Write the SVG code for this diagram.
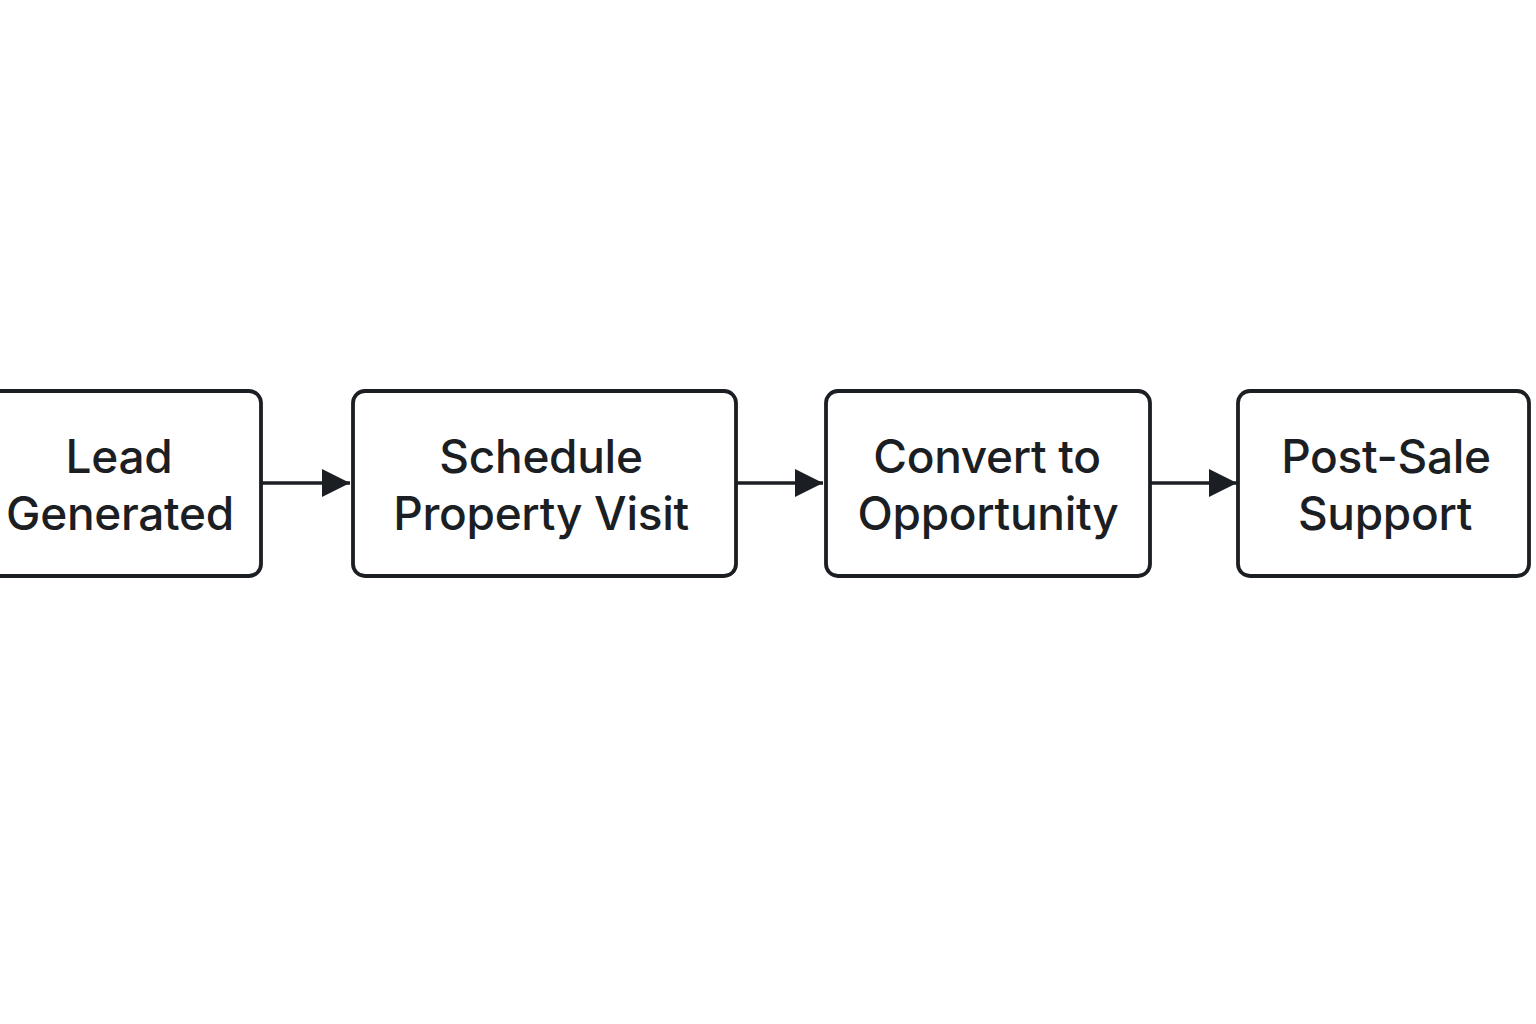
<svg xmlns="http://www.w3.org/2000/svg" width="1536" height="1024" viewBox="0 0 1536 1024">
<defs>
<style>
.box{fill:#ffffff;stroke:#1b1e22;stroke-width:3.8}
.lbl{font-family:Inter,"Liberation Sans",sans-serif;font-size:46px;font-weight:500;letter-spacing:-0.3px;fill:#1b1e22;text-anchor:middle}
.edge{stroke:#1b1e22;stroke-width:3.5;fill:none}
</style>
<marker id="ah" markerUnits="userSpaceOnUse" markerWidth="30" markerHeight="30" refX="28" refY="14" orient="auto" viewBox="0 0 30 28">
<path d="M0,0 L28,14 L0,28 Z" fill="#1b1e22"/>
</marker>
</defs>
<rect width="1536" height="1024" fill="#ffffff"/>
<g id="connectors">
<line class="edge" x1="261" y1="483" x2="350" y2="483" marker-end="url(#ah)"/>
<line class="edge" x1="736" y1="483" x2="823" y2="483" marker-end="url(#ah)"/>
<line class="edge" x1="1150" y1="483" x2="1237" y2="483" marker-end="url(#ah)"/>
</g>
<g id="lead-generated">
<rect class="box" x="-21" y="391" width="282" height="185" rx="12"/>
<text class="lbl" x="119" y="473">Lead</text>
<text class="lbl" x="120" y="530">Generated</text>
</g>
<g id="schedule-property-visit">
<rect class="box" x="353" y="391" width="383" height="185" rx="12"/>
<text class="lbl" x="541" y="473">Schedule</text>
<text class="lbl" x="541" y="530">Property Visit</text>
</g>
<g id="convert-to-opportunity">
<rect class="box" x="826" y="391" width="324" height="185" rx="12"/>
<text class="lbl" x="987" y="473">Convert to</text>
<text class="lbl" x="988" y="530">Opportunity</text>
</g>
<g id="post-sale-support">
<rect class="box" x="1238" y="391" width="291" height="185" rx="12"/>
<text class="lbl" x="1386" y="473">Post-Sale</text>
<text class="lbl" x="1385" y="530">Support</text>
</g>
</svg>
